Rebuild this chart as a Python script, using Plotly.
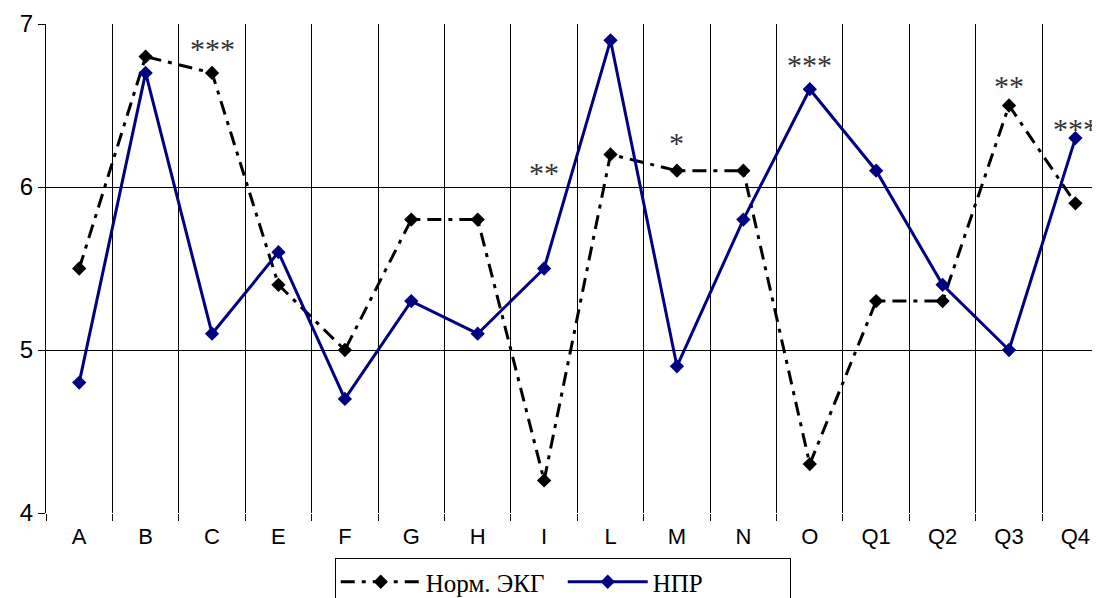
import plotly.graph_objects as go

categories = ["A", "B", "C", "E", "F", "G", "H", "I", "L", "M", "N", "O", "Q1", "Q2", "Q3", "Q4"]
norm_ekg = [5.5, 6.8, 6.7, 5.4, 5.0, 5.8, 5.8, 4.2, 6.2, 6.1, 6.1, 4.3, 5.3, 5.3, 6.5, 5.9]
npr = [4.8, 6.7, 5.1, 5.6, 4.7, 5.3, 5.1, 5.5, 6.9, 4.9, 5.8, 6.6, 6.1, 5.4, 5.0, 6.3]
sig_cats = ["C", "I", "M", "O", "Q3", "Q4"]
sig_text = ["***", "**", "*", "***", "**", "***"]
sig_y = [6.85, 6.09, 6.27, 6.75, 6.62, 6.36]

fig = go.Figure()
fig.add_trace(go.Scatter(
    x=categories, y=norm_ekg, name="Норм. ЭКГ", mode="lines+markers",
    line=dict(color="black", width=3, dash="14px,7px,4px,7px"),
    marker=dict(symbol="diamond", size=11, color="black"),
    cliponaxis=False,
))
fig.add_trace(go.Scatter(
    x=categories, y=npr, name="НПР", mode="lines+markers",
    line=dict(color="#000080", width=3),
    marker=dict(symbol="diamond", size=11, color="#000080"),
    cliponaxis=False,
))

for c, t, yv in zip(sig_cats, sig_text, sig_y):
    fig.add_annotation(x=c, y=yv, text=t, showarrow=False,
                       font=dict(family="Liberation Serif, Times New Roman, serif", size=30, color="#333333"))

fig.update_layout(
    width=1092, height=590,
    margin=dict(l=38, r=0, t=16, b=85, autoexpand=False),
    paper_bgcolor="white", plot_bgcolor="white",
    font=dict(family="Liberation Sans, Arial, sans-serif", size=20, color="black"),
    showlegend=True,
    legend=dict(
        orientation="h", xref="container", yref="container",
        x=0.508, xanchor="center", y=1 - 550 / 590, yanchor="top",
        bordercolor="black", borderwidth=1, bgcolor="white",
        font=dict(family="Liberation Serif, Times New Roman, serif", size=25, color="black"),
        itemwidth=80, entrywidth=132, entrywidthmode="pixels", tracegroupgap=0,
    ),
    xaxis=dict(
        type="category", categoryorder="array", categoryarray=categories,
        range=[-0.5, 15.37], automargin=False,
        tickson="boundaries", showgrid=True, gridcolor="black", gridwidth=1,
        ticks="outside", ticklen=7, tickcolor="black",
        showline=False, zeroline=False, ticklabelstandoff=8,
        tickfont=dict(size=22),
    ),
    yaxis=dict(
        range=[4, 7], tickvals=[4, 5, 6, 7], ticktext=["4", "5", "6", "7"],
        automargin=False,
        showgrid=True, gridcolor="black", gridwidth=1,
        ticks="outside", ticklen=7, tickcolor="black",
        showline=True, linecolor="black", linewidth=1, zeroline=False,
        tickfont=dict(size=24),
    ),
)

fig.write_html("out.html")
